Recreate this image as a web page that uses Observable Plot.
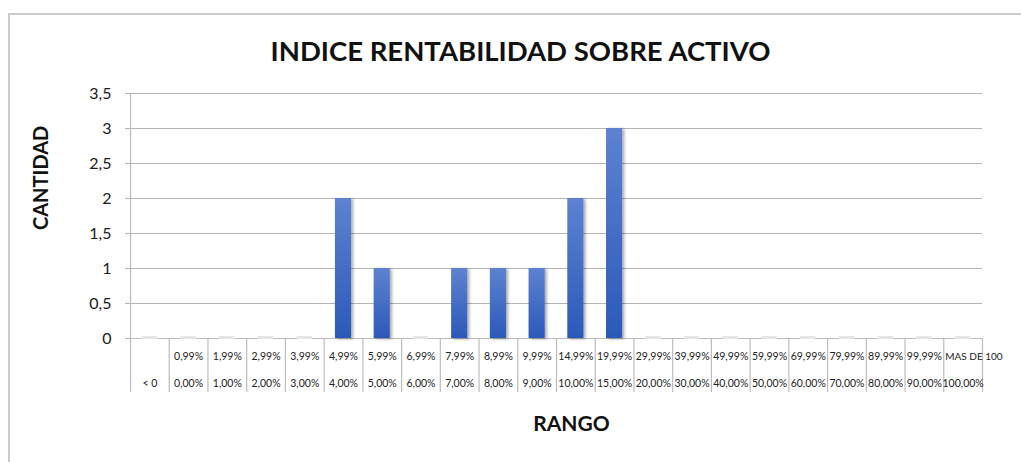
<!DOCTYPE html>
<html>
<head>
<meta charset="utf-8">
<script src="https://cdn.jsdelivr.net/npm/d3@7"></script>
<script src="https://cdn.jsdelivr.net/npm/@observablehq/plot@0.6"></script>
<style>
  html, body { margin: 0; padding: 0; background: #fff; }
  body { width: 1021px; height: 462px; overflow: hidden; position: relative; font-family: Lato, "Open Sans", sans-serif; }
  #frame { position: absolute; left: 8px; top: 13px; width: 1040px; height: 480px; border-top: 2px solid #cbcbcb; border-left: 2px solid #cbcbcb; box-sizing: border-box; }
  #title { position: absolute; left: 0; width: 1041px; top: 37px; text-align: center; font: bold 27.5px Lato, sans-serif; line-height: 27px; color: #111; white-space: nowrap; }
  #chart { position: absolute; left: 0; top: 0; }
</style>
</head>
<body>
<div id="frame"></div>
<div id="title">INDICE RENTABILIDAD SOBRE ACTIVO</div>
<div id="chart"></div>
<script>
// ---- Data ----
const rangoSuperior = ["", "0,99%", "1,99%", "2,99%", "3,99%", "4,99%", "5,99%", "6,99%", "7,99%", "8,99%", "9,99%", "14,99%", "19,99%", "29,99%", "39,99%", "49,99%", "59,99%", "69,99%", "79,99%", "89,99%", "99,99%", "MAS DE 100"];
const rangoInferior = ["< 0", "0,00%", "1,00%", "2,00%", "3,00%", "4,00%", "5,00%", "6,00%", "7,00%", "8,00%", "9,00%", "10,00%", "15,00%", "20,00%", "30,00%", "40,00%", "50,00%", "60,00%", "70,00%", "80,00%", "90,00%", "100,00%"];
const cantidad = [0, 0, 0, 0, 0, 2, 1, 0, 1, 1, 1, 2, 3, 0, 0, 0, 0, 0, 0, 0, 0, 0];
const ticksY = [0, 0.5, 1, 1.5, 2, 2.5, 3, 3.5];

const data = cantidad.map((v, i) => ({i, v, sup: rangoSuperior[i], inf: rangoInferior[i]}));
const n = data.length;
const gray = "#bcbcbc";
const font = "Lato, sans-serif";

// two rows of category labels under the axis
function labelMarks(field, dy) {
  const rows = data.map(d => ({i: d.i, t: d[field]}));
  const isLast = r => r.t === "MAS DE 100";
  return [
    Plot.text(rows.filter(r => r.t.length <= 5), {x: d => d.i + 0.5, y: 0, text: "t", dy, fontSize: 10.5, letterSpacing: 0.6, fill: "#222"}),
    Plot.text(rows.filter(r => r.t.length > 5 && !isLast(r)), {x: d => d.i + 0.5, y: 0, text: "t", dy, fontSize: 10.5, letterSpacing: -0.3, fill: "#222"}),
    Plot.text(rows.filter(isLast), {x: d => d.i, y: 0, text: "t", dy, dx: 1.5, textAnchor: "start", fontSize: 10, fill: "#222"})
  ];
}

const chart = Plot.plot({
  width: 1021,
  height: 462,
  marginLeft: 130,
  marginRight: 39,
  marginTop: 93,
  marginBottom: 124,
  style: {fontFamily: font, background: "transparent", overflow: "visible"},
  x: {type: "linear", domain: [0, n], axis: null},
  y: {domain: [0, d3.max(ticksY)], axis: null},
  marks: [
    Plot.gridY(ticksY, {stroke: "#b3b3b3", strokeOpacity: 1, strokeWidth: 1.2}),
    Plot.axisY({ticks: ticksY, tickFormat: d => String(d).replace(".", ","), tickSize: 5, tickPadding: 14, fontSize: 16, stroke: "#b3b3b3", fill: "#1a1a1a", label: null}),
    Plot.axisX({ticks: d3.range(0, n + 1), tickSize: 54, tickFormat: () => "", stroke: gray, strokeWidth: 1.2, label: null}),
    Plot.ruleX([0], {y1: 0, y2: d3.max(ticksY), stroke: gray, strokeWidth: 1.2}),
    Plot.ruleY([0], {stroke: gray, strokeWidth: 1.2}),
    Plot.ruleY(data.filter(d => d.v === 0), {x1: d => d.i + 0.3, x2: d => d.i + 0.7, y: 0, stroke: "#e6e6e6", strokeWidth: 3, dy: -1}),
    Plot.rectY(data.filter(d => d.v > 0), {x1: "i", x2: d => d.i + 1, y: "v", insetLeft: 11.3, insetRight: 11.3, fill: "url(#gradBar)"}),
    ...labelMarks("sup", 18),
    ...labelMarks("inf", 45),
    Plot.text(["CANTIDAD"], {frameAnchor: "left", rotate: -90, dx: -89, dy: 14, fontSize: 20, fontWeight: "bold", fill: "#111"}),
    Plot.text(["RANGO"], {frameAnchor: "bottom", dx: 15, dy: 92, fontSize: 21, fontWeight: "bold", fill: "#111"})
  ]
});

const svg = d3.select(chart);
svg.insert("defs", ":first-child").html(`
  <linearGradient id="gradBar" x1="0" y1="0" x2="0" y2="1">
    <stop offset="0" stop-color="#5d82d0"/>
    <stop offset="1" stop-color="#2b59b9"/>
  </linearGradient>
  <filter id="shadow" x="-50%" y="-10%" width="200%" height="130%">
    <feDropShadow dx="2" dy="1" stdDeviation="1.5" flood-color="#000" flood-opacity="0.35"/>
  </filter>`);
svg.selectAll('g[fill="url(#gradBar)"]').attr("filter", "url(#shadow)");

document.getElementById("chart").appendChild(chart);
</script>
</body>
</html>
